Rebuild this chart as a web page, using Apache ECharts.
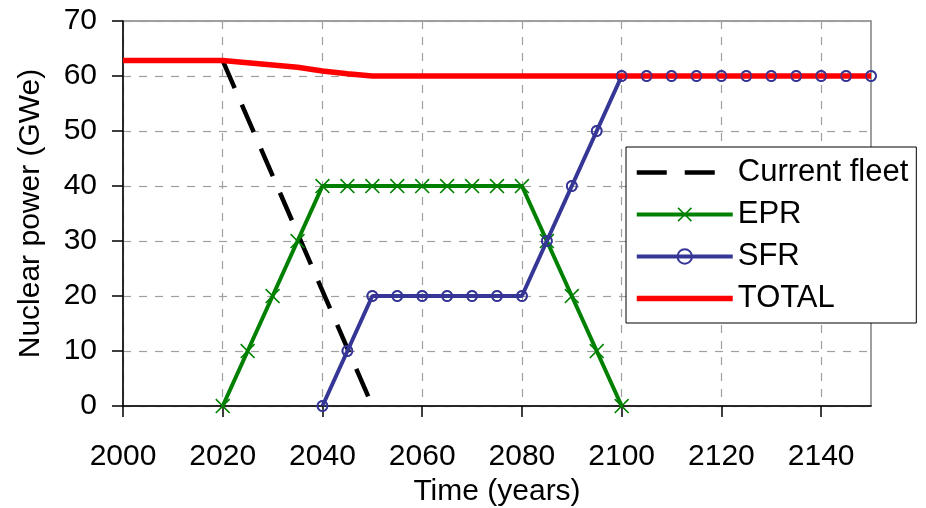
<!DOCTYPE html>
<html>
<head>
<meta charset="utf-8">
<script src="https://cdn.jsdelivr.net/npm/echarts@6/dist/echarts.min.js"></script>
<style>
html,body{margin:0;padding:0;background:#fff;}
#chart{width:926px;height:508px;}
</style>
</head>
<body>
<div id="chart"></div>
<script>
// ---- data ----
const xTicks = [2000, 2020, 2040, 2060, 2080, 2100, 2120, 2140];
const fleetYears = [2020, 2050];
const fleetValues = [62.8, 0];
const eprYears = [2020, 2025, 2030, 2035, 2040, 2045, 2050, 2055, 2060, 2065, 2070, 2075, 2080, 2085, 2090, 2095, 2100];
const eprValues = [0, 10, 20, 30, 40, 40, 40, 40, 40, 40, 40, 40, 40, 30, 20, 10, 0];
const sfrYears = [2040, 2045, 2050, 2055, 2060, 2065, 2070, 2075, 2080, 2085, 2090, 2095, 2100, 2105, 2110, 2115, 2120, 2125, 2130, 2135, 2140, 2145, 2150];
const sfrValues = [0, 10, 20, 20, 20, 20, 20, 20, 20, 30, 40, 50, 60, 60, 60, 60, 60, 60, 60, 60, 60, 60, 60];
const totalYears = [2000, 2020, 2025, 2030, 2035, 2040, 2045, 2050, 2150];
const totalValues = [62.8, 62.8, 62.4, 62.0, 61.6, 60.9, 60.4, 60.0, 60.0];

const pairs = (xs, ys) => xs.map((x, i) => [x, ys[i]]);

const FONT = '"Liberation Sans", Arial, Helvetica, sans-serif';
const GREEN = '#008000';
const BLUE = '#363696';
const RED = '#ff0000';
const CROSS = 'path://M0,1.5L1.5,0L10,8.5L18.5,0L20,1.5L11.5,10L20,18.5L18.5,20L10,11.5L1.5,20L0,18.5L8.5,10Z';
const HIDDEN_SYMBOL = {color: 'rgba(0,0,0,0)', borderColor: 'rgba(0,0,0,0)', borderWidth: 0};

const chart = echarts.init(document.getElementById('chart'), null, {renderer: 'canvas'});
chart.setOption({
  animation: false,
  backgroundColor: '#fff',
  textStyle: {fontFamily: FONT},
  grid: {
    left: 123, right: 55, top: 21, bottom: 102,
    outerBoundsMode: 'none', containLabel: false,
    show: true, borderColor: '#808080', borderWidth: 1.5, backgroundColor: 'transparent'
  },
  legend: {
    data: [
      {name: 'Current fleet', itemStyle: HIDDEN_SYMBOL},
      {name: 'EPR'},
      {name: 'SFR'},
      {name: 'TOTAL', itemStyle: HIDDEN_SYMBOL}
    ],
    orient: 'vertical',
    left: 626, top: 147,
    padding: [10, 8, 9, 8],
    itemGap: 11,
    itemWidth: 96,
    itemHeight: 18,
    backgroundColor: '#fff',
    borderColor: '#000',
    borderWidth: 1,
    borderRadius: 0,
    lineStyle: {width: 'inherit', type: 'inherit', color: 'inherit'},
    textStyle: {fontFamily: FONT, fontSize: 31, color: '#000', lineHeight: 30}
  },
  xAxis: {
    type: 'value',
    min: 2000, max: 2150, interval: 20,
    name: 'Time (years)',
    nameLocation: 'middle',
    nameGap: 70,
    nameTextStyle: {fontFamily: FONT, fontSize: 30, color: '#000'},
    axisLine: {show: true, lineStyle: {color: '#000', width: 1.5}},
    axisTick: {show: true, inside: false, length: 11, lineStyle: {color: '#000', width: 1.5}, customValues: xTicks},
    axisLabel: {fontFamily: FONT, fontSize: 30, color: '#000', margin: 36, customValues: xTicks,
      formatter: v => String(v)},
    splitLine: {show: true, lineStyle: {color: '#a0a0a0', width: 1.2, type: [8, 8]}}
  },
  yAxis: {
    type: 'value',
    min: 0, max: 70, interval: 10,
    name: 'Nuclear power (GWe)',
    nameLocation: 'middle',
    nameGap: 77,
    nameTextStyle: {fontFamily: FONT, fontSize: 30, color: '#000'},
    axisLine: {show: true, lineStyle: {color: '#000', width: 1.5}},
    axisTick: {show: true, inside: false, length: 11, lineStyle: {color: '#000', width: 1.5}},
    axisLabel: {fontFamily: FONT, fontSize: 30, color: '#000', margin: 26},
    splitLine: {show: true, lineStyle: {color: '#a0a0a0', width: 1.2, type: [8, 8]}}
  },
  series: [
    {
      name: 'Current fleet', type: 'line',
      data: pairs(fleetYears, fleetValues),
      symbol: 'none', showSymbol: false,
      lineStyle: {color: '#000', width: 4.5, type: [30, 18]},
      itemStyle: {color: '#000'},
      z: 2
    },
    {
      name: 'EPR', type: 'line',
      data: pairs(eprYears, eprValues),
      symbol: CROSS, symbolSize: 15, showAllSymbol: true,
      lineStyle: {color: GREEN, width: 4},
      itemStyle: {color: GREEN},
      z: 3
    },
    {
      name: 'SFR', type: 'line',
      data: pairs(sfrYears, sfrValues),
      symbol: 'circle', symbolSize: 10, showAllSymbol: true,
      lineStyle: {color: BLUE, width: 4},
      itemStyle: {color: 'rgba(255,255,255,0)', borderColor: BLUE, borderWidth: 1.8},
      z: 4
    },
    {
      name: 'TOTAL', type: 'line',
      data: pairs(totalYears, totalValues),
      symbol: 'none', showSymbol: false,
      lineStyle: {color: RED, width: 5.5},
      itemStyle: {color: RED},
      z: 5
    },
    {
      name: 'SFR points', type: 'scatter',
      data: pairs(sfrYears, sfrValues),
      symbol: 'circle', symbolSize: 10,
      itemStyle: {color: 'rgba(255,255,255,0)', borderColor: BLUE, borderWidth: 1.8},
      z: 6
    }
  ]
});
</script>
</body>
</html>
